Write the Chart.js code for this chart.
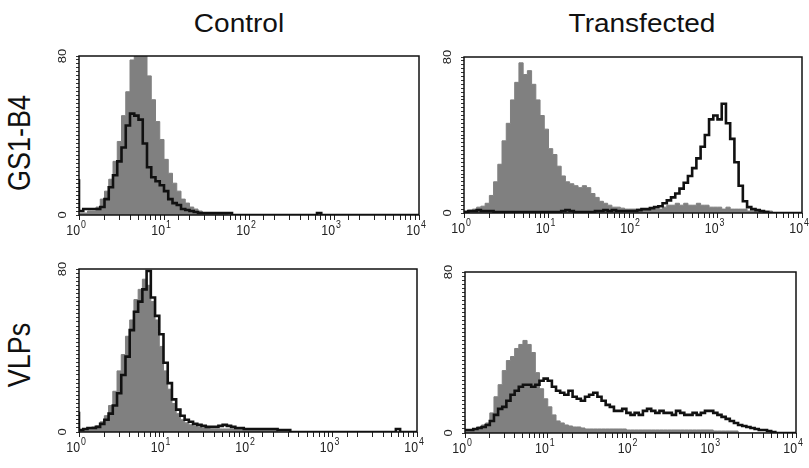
<!DOCTYPE html>
<html>
<head>
<meta charset="utf-8">
<script src="https://cdn.jsdelivr.net/npm/chart.js@4.4.1/dist/chart.umd.min.js"></script>
<style>
  body { margin: 0; background: #fff; width: 809px; height: 468px; position: relative; overflow: hidden;
         font-family: 'Liberation Sans', Arial, sans-serif; color: #111; }
  canvas { position: absolute; }
  .title { position: absolute; font-size: 25px; white-space: nowrap; transform: translate(-50%, -50%) scaleX(1.12); }
  .row { position: absolute; font-size: 27px; white-space: nowrap; transform: translate(-50%, -50%) scaleX(1.15) rotate(-90deg); }
</style>
</head>
<body>
<div class="title" style="left:239px; top:23px;">Control</div>
<div class="title" style="left:642px; top:23px;">Transfected</div>
<div class="row" style="left:20px; top:143px;">GS1-B4</div>
<div class="row" style="left:20px; top:355px;">VLPs</div>
<canvas id="ctl-gs1"></canvas>
<canvas id="tr-gs1"></canvas>
<canvas id="ctl-vlp"></canvas>
<canvas id="tr-vlp"></canvas>
<script>
// histogram counts, 20 channels per decade from 10^0 to 10^4 (80 channels)
const decades = [0, 1, 2, 3, 4];
const yTickLabels = [0, 80];

const controlGs1Grey = [1, 1, 1, 2, 2, 4, 8, 12, 18, 27, 37, 50, 62, 78, 84, 88, 82, 70, 58, 47,
  38, 28, 21, 16, 12, 8, 6, 4, 3, 2, 1, 1, 0.5, 0.5, 0.5, 0.5, 0, 0, 0, 0,
  0, 0, 0, 0, 0, 0, 0, 0, 0, 0, 0, 0, 0, 0, 0, 0, 0, 0, 0, 0,
  0, 0, 0, 0, 0, 0, 0, 0, 0, 0, 0, 0, 0, 0, 0, 0, 0, 0, 0, 0];
const controlGs1Black = [18, 2, 3, 3, 3, 3, 4, 8, 14, 20, 27, 34, 45, 51, 50, 48, 36, 24, 19, 17,
  15, 12, 8, 6, 5, 3, 2.5, 2, 1.5, 1, 1, 1, 1, 1, 1, 1, 1, 0, 0, 0,
  0, 0, 0, 0, 0, 0, 0, 0, 0, 0, 0, 0, 0, 0, 0, 0, 0, 1, 0, 0,
  0, 0, 0, 0, 0, 0, 0, 0, 0, 0, 0, 0, 0, 0, 0, 0, 0, 0, 0, 0];

const transGs1Grey = [0.5, 1, 1.5, 2, 3, 3.5, 5, 9, 16, 25, 37, 46, 58, 67, 77, 71, 73, 66, 58, 50,
  43, 33, 30, 24, 19, 16, 15, 14, 13, 14, 13, 10, 8, 6, 5, 4, 3, 3, 2.5, 2,
  2, 2, 2, 2, 2, 2, 2, 2, 3, 4, 4, 5, 4, 5, 4, 4, 5, 4, 4, 3,
  3, 3, 2, 3, 2, 2, 2, 2, 1, 1, 1, 1, 1, 1, 0, 0, 0, 0, 0, 0];
const transGs1Black = [0, 0.5, 1, 1, 1.5, 1, 1, 1, 0.5, 0.5, 0.5, 0.5, 0.5, 0.5, 0.5, 0.5, 0.5, 0.5, 0.5, 0.5,
  0.5, 0.5, 0.5, 0.5, 1, 1.5, 1, 0.5, 0.5, 0.5, 0.5, 0.5, 1, 1, 1.5, 1, 1.5, 1, 1, 1,
  1, 1, 1.5, 2, 2, 2.5, 3, 3.5, 5, 6.5, 8, 10, 12.5, 15.5, 19, 23, 28, 34, 40, 48,
  50, 48, 56, 46, 38, 26, 14, 6, 3, 2, 1.5, 1, 0.5, 0, 0, 0, 0, 0, 0, 0];

const controlVlpGrey = [1, 1, 1.5, 2, 2.5, 3, 5, 8, 13, 20, 30, 38, 47, 55, 65, 70, 75, 72, 64, 55,
  42, 30, 21, 14, 9, 6, 4.5, 3.5, 3, 2.5, 2, 2, 1.5, 1.5, 1.5, 1.5, 1.5, 1.5, 1.5, 1.5,
  1, 1, 1, 1, 1, 1, 1, 1, 0, 0, 0, 0, 0, 0, 0, 0, 0, 0, 0, 0,
  0, 0, 0, 0, 0, 0, 0, 0, 0, 0, 0, 0, 0, 0, 0, 0, 0, 0, 0, 0];
const controlVlpBlack = [10, 1, 1.5, 2, 2, 2.5, 4, 6, 9, 13, 19, 28, 37, 50, 59, 64, 70, 79, 66, 57,
  48, 34, 24, 16, 11, 8, 6, 5, 4, 3.5, 3, 2.5, 2.5, 2.5, 3, 3.5, 3, 2.5, 2, 2,
  1.5, 1.5, 1.5, 1.5, 1.5, 1.5, 1.5, 1.5, 1, 1, 1, 0, 0, 0, 0, 0, 0, 0, 0, 0,
  0, 0, 0, 0, 0, 0, 0, 0, 0, 0, 0, 0, 0, 0, 0, 0, 1.5, 0, 0, 0];

const transVlpGrey = [7, 1, 1.5, 2, 3, 4, 5, 10, 18, 24, 31, 36, 38, 42, 44, 46, 44, 40, 30, 22,
  17, 13, 9, 6, 5, 4, 3.5, 3, 3, 2.5, 2, 2, 2, 2, 2, 2, 2, 2, 2, 2,
  1.5, 1.5, 1.5, 1.5, 1.5, 1.5, 1.5, 1.5, 1.5, 1.5, 1.5, 1.5, 1.5, 1.5, 1.5, 1.5, 1.5, 1.5, 1.5, 1.5,
  1.5, 1, 1, 1, 1, 1, 1, 0, 0, 0, 0, 0, 0, 0, 0, 0, 0, 0, 0, 0];
const transVlpBlack = [2, 1.5, 1.5, 2, 2.5, 3, 4, 6, 9, 12, 13, 16, 19, 21, 23, 24, 24, 23, 24, 26,
  27, 26, 23, 21, 20, 19, 21, 18, 17, 16, 18, 19, 20, 18, 16, 14, 13, 11, 11, 12,
  10, 9, 10, 9, 11, 12, 11, 10, 11, 10, 10, 9, 11, 10, 9, 9, 10, 9, 10, 11,
  11, 10, 9, 8, 7, 6, 5, 4, 3.5, 3, 2.5, 2, 1.5, 1.5, 1, 0.5, 0, 0, 0, 0];

const channelsPerDecade = 20;
const channelEdges = Array.from({ length: 81 }, (_, i) => Math.pow(10, i / channelsPerDecade));

// left edge of each channel, plus closing edge, for a stepped outline
const toSteps = values => values.map((v, i) => ({ x: channelEdges[i], y: v }))
  .concat([{ x: channelEdges[values.length], y: values[values.length - 1] }]);

const FONT = "'Liberation Sans', Arial, sans-serif";
const margin = { left: 42, top: 12, right: 10, bottom: 30 };
const xTickLen = 5, yTickLen = 3;

const axisLabels = {
  id: 'axisLabels',
  afterDraw(chart) {
    const { ctx, chartArea: a, scales: { x, y } } = chart;
    ctx.save();
    ctx.strokeStyle = '#111';
    ctx.lineWidth = 1.5;
    ctx.strokeRect(a.left, a.top, a.right - a.left, a.bottom - a.top);
    ctx.fillStyle = '#222';
    decades.forEach(p => {
      const px = x.getPixelForValue(Math.pow(10, p));
      ctx.save();
      ctx.translate(px + 1, a.bottom + 20);
      ctx.scale(0.88, 1);
      ctx.font = '14px ' + FONT;
      ctx.textAlign = 'right';
      ctx.textBaseline = 'alphabetic';
      ctx.fillText('10', 0, 0);
      ctx.font = '10px ' + FONT;
      ctx.textAlign = 'left';
      ctx.fillText(String(p), 1, -7);
      ctx.restore();
    });
    yTickLabels.forEach(v => {
      const py = y.getPixelForValue(v);
      ctx.save();
      ctx.translate(a.left - 16, py);
      ctx.rotate(-Math.PI / 2);
      ctx.scale(1, 0.85);
      ctx.font = '13px ' + FONT;
      ctx.textAlign = 'center';
      ctx.textBaseline = 'middle';
      ctx.fillText(String(v), 0, 0);
      ctx.restore();
    });
    ctx.restore();
  }
};

function makePanel(id, grey, black, area) {
  const canvas = document.getElementById(id);
  const w = area.right - area.left + margin.left + margin.right;
  const h = area.bottom - area.top + margin.top + margin.bottom;
  canvas.width = w;
  canvas.height = h;
  canvas.style.left = (area.left - margin.left) + 'px';
  canvas.style.top = (area.top - margin.top) + 'px';

  new Chart(canvas, {
    type: 'line',
    data: {
      datasets: [
        { data: toSteps(black), stepped: 'after', borderColor: '#111', borderWidth: 2.6,
          pointRadius: 0, fill: false },
        { data: toSteps(grey), stepped: 'after', borderColor: '#808080', borderWidth: 1,
          backgroundColor: '#808080', pointRadius: 0, fill: 'origin' }
      ]
    },
    options: {
      responsive: false,
      animation: false,
      events: [],
      layout: { padding: { left: margin.left - yTickLen, top: margin.top, right: margin.right, bottom: margin.bottom - xTickLen } },
      plugins: { legend: { display: false }, tooltip: { enabled: false } },
      scales: {
        x: {
          type: 'logarithmic', min: 1, max: 10000,
          border: { display: false },
          grid: { drawOnChartArea: false, drawTicks: true, tickLength: xTickLen, color: '#222', lineWidth: 1 },
          ticks: { display: false, autoSkip: false }
        },
        y: {
          min: 0, max: 80,
          border: { display: false },
          grid: { drawOnChartArea: false, drawTicks: true, tickLength: yTickLen, color: '#333', lineWidth: 1 },
          ticks: { display: false, stepSize: 2, autoSkip: false }
        }
      }
    },
    plugins: [axisLabels]
  });
}

makePanel('ctl-gs1', controlGs1Grey, controlGs1Black, { left: 79, top: 56, right: 419, bottom: 215 });
makePanel('tr-gs1', transGs1Grey, transGs1Black, { left: 464, top: 57, right: 802, bottom: 213 });
makePanel('ctl-vlp', controlVlpGrey, controlVlpBlack, { left: 79, top: 269, right: 417, bottom: 432 });
makePanel('tr-vlp', transVlpGrey, transVlpBlack, { left: 465, top: 272, right: 796, bottom: 433 });
</script>
</body>
</html>
